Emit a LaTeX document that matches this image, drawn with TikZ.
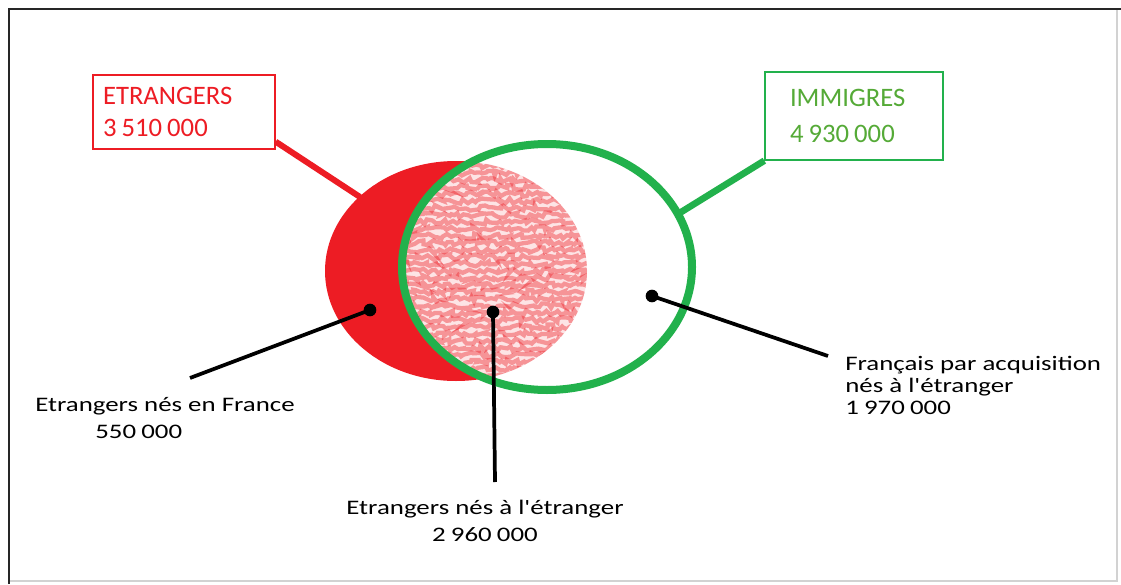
\documentclass[tikz,border=0pt]{standalone}
\usepackage{fontspec}
\setmainfont{Carlito}
\newfontfamily\blk[FakeStretch=1.3,Ligatures=TeXOff]{Carlito}
\usetikzlibrary{decorations.pathmorphing}
\definecolor{pred}{RGB}{237,28,36}
\definecolor{pgreen}{RGB}{34,177,76}
\definecolor{tgreen}{RGB}{85,170,55}
\newcommand{\ns}{\hspace{0.19em}}
\newcommand{\nb}{\hspace{0.25em}}
\tikzset{
  boxlabel/.style={draw, line width=1pt, anchor=center, align=left, inner ysep=0pt,
    font=\fontsize{20}{24}\selectfont},
  blacktext/.style={text=black, inner sep=0pt, font=\blk\fontsize{15.5}{20}\selectfont},
  pointer/.style={black, line width=2.8pt},
  dot/.style={circle, fill=black, inner sep=0pt, minimum size=9.5pt},
  streak/.style={pred, line width=3.2pt, opacity=0.4, decorate,
    decoration={random steps, segment length=2.5pt, amplitude=2pt}},
}
\begin{document}
\begin{tikzpicture}[x=0.75pt,y=-0.75pt]
\useasboundingbox (0,0) rectangle (1121,585);
% frame
\draw[gray!35, line width=1pt] (1117,9) -- (1117,581) -- (9,581);
\draw[black!85, line width=2pt] (9,584) -- (9,9) -- (1121,9);
% ellipses
\coordinate (rc) at (456,271);
\coordinate (gc) at (547,267);
\fill[pred] (rc) ellipse [x radius=131, y radius=110];
\fill[white] (gc) ellipse [x radius=145, y radius=123];
\begin{scope}
  \clip (rc) ellipse [x radius=131, y radius=110];
  \clip (gc) ellipse [x radius=145, y radius=123];
  \fill[pred!12] (380,150) rectangle (600,390);
  \pgfmathsetseed{11}
  \foreach \yy in {166,173,...,376} {
    \draw[streak] (395,\yy) -- (600,\yy);
  }
\end{scope}
% boxes
\node[boxlabel, draw=pred, text=pred, minimum width=136.5pt, minimum height=55.5pt,
  inner xsep=7.5pt, text width=121.5pt] (rbox) at (184,112) {ETRANGERS\\3\ns510\ns000};
\node[boxlabel, draw=pgreen, text=tgreen, minimum width=133.5pt, minimum height=66pt,
  inner xsep=18.75pt, text width=96pt, font=\fontsize{20}{27.5}\selectfont] (gbox) at (854,116) {IMMIGRES\\4\ns930\ns000};
\coordinate (rend) at (360,197);
\coordinate (gend) at (678,214);
\draw[pred, line width=4.5pt] ([yshift=6pt]rbox.south east) -- (rend);
\draw[pgreen, line width=5pt] (gbox.south west) -- (gend);
\draw[pgreen, line width=6pt] (gc) ellipse [x radius=145, y radius=123];
% pointers
\node[dot] (d1) at (370,310) {};
\node[dot] (d2) at (493,312) {};
\node[dot] (d3) at (652,296) {};
\coordinate (e1) at (190,378);
\coordinate (e2) at (495,482);
\coordinate (e3) at (828,356);
\draw[pointer] (d1.center) -- (e1);
\draw[pointer] (d2.center) -- (e2);
\draw[pointer] (d3.center) -- (e3);
% texts
\node[blacktext, anchor=west, align=left] (t1) at (35,418)
  {Etrangers nés en France\\\hspace*{45pt}550\nb000};
\node[blacktext, anchor=center, align=center] (t2) at (485,521)
  {Etrangers nés à l'étranger\\2\nb960\nb000};
\node[blacktext, anchor=west, align=left, font=\blk\fontsize{15.5}{16.5}\selectfont] (t3) at (845,385)
  {Français par acquisition\\nés à l'étranger\\1\nb970\nb000};
\end{tikzpicture}
\end{document}
